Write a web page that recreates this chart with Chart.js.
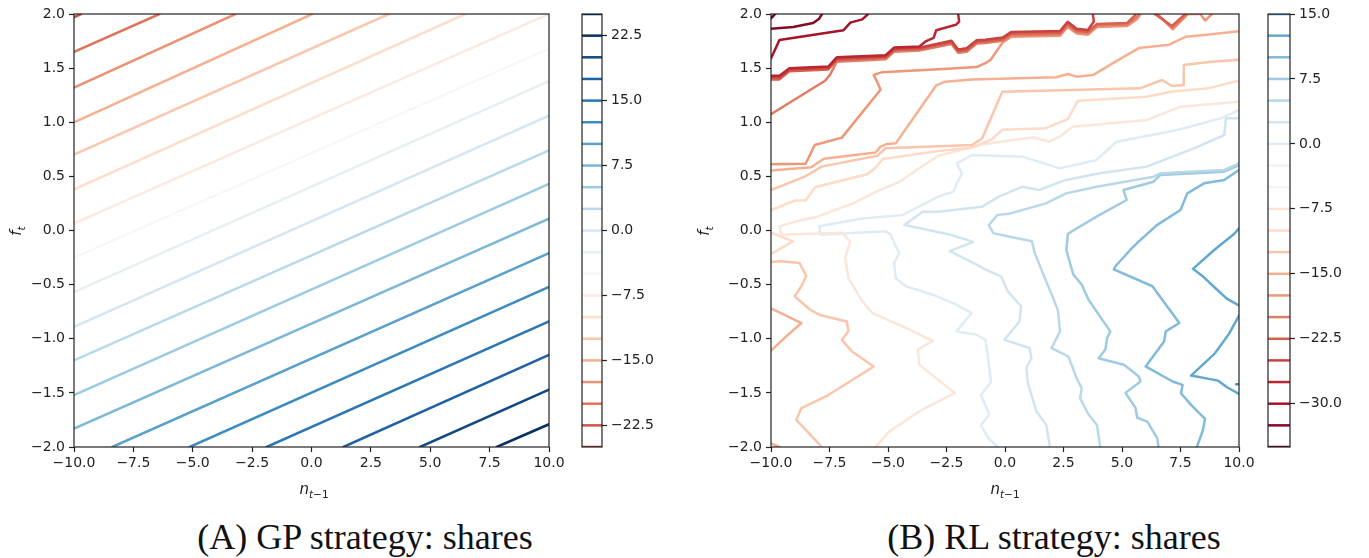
<!DOCTYPE html>
<html>
<head>
<meta charset="utf-8">
<script src="https://cdn.jsdelivr.net/npm/chart.js@4.4.1/dist/chart.umd.min.js"></script>
<style>
  body { margin: 0; background: #fff; }
  #fig { position: relative; width: 1369px; height: 558px; overflow: hidden; background: #fff; }
  canvas { position: absolute; top: 0; }
  .lab { position: absolute; font-family: 'DejaVu Sans', sans-serif; font-size: 15px; color: #222; white-space: nowrap; line-height: 1; }
  .lab sub { font-size: 0.7em; vertical-align: -0.35em; }
  .cap { position: absolute; font-family: 'Liberation Serif', serif; font-size: 36px; color: #111; white-space: nowrap; line-height: 1; transform: translateX(-50%); }
</style>
</head>
<body>
<div id="fig">
  <canvas id="plotA" width="600" height="490" style="left:0px;width:600px;height:490px"></canvas>
  <canvas id="barA" width="110" height="490" style="left:570px;width:110px;height:490px"></canvas>
  <canvas id="plotB" width="600" height="490" style="left:683px;width:600px;height:490px"></canvas>
  <canvas id="barB" width="113" height="490" style="left:1256px;width:113px;height:490px"></canvas>

  <div class="lab" style="left:314px;top:482px;transform:translateX(-50%)"><i>n</i><sub><i>t</i>&#8722;1</sub></div>
  <div class="lab" style="left:1005px;top:482px;transform:translateX(-50%)"><i>n</i><sub><i>t</i>&#8722;1</sub></div>
  <div class="lab" style="left:18px;top:231px;transform:translate(-50%,-50%) rotate(-90deg)"><i>f</i><sub><i>t</i></sub></div>
  <div class="lab" style="left:706px;top:231px;transform:translate(-50%,-50%) rotate(-90deg)"><i>f</i><sub><i>t</i></sub></div>

  <div class="cap" style="left:365px;top:519px">(A) GP strategy: shares</div>
  <div class="cap" style="left:1054px;top:519px">(B) RL strategy: shares</div>
</div>

<script>
// axis ticks
const xTicks = [-10, -7.5, -5, -2.5, 0, 2.5, 5, 7.5, 10];
const yTicks = [-2, -1.5, -1, -0.5, 0, 0.5, 1, 1.5, 2];

// colorbar levels and labels
const cbLevelsA = [-25, -22.5, -20, -17.5, -15, -12.5, -10, -7.5, -5, -2.5, 0, 2.5, 5, 7.5, 10, 12.5, 15, 17.5, 20, 22.5, 25];
const cbTicksA = [-22.5, -15, -7.5, 0, 7.5, 15, 22.5];
const cbLevelsB = [-35, -32.5, -30, -27.5, -25, -22.5, -20, -17.5, -15, -12.5, -10, -7.5, -5, -2.5, 0, 2.5, 5, 7.5, 10, 12.5, 15];
const cbTicksB = [-30, -22.5, -15, -7.5, 0, 7.5, 15];

// (A) GP strategy: contour levels and their lines, [n, f] points
const gpLevels = [-22.5, -20, -17.5, -15, -12.5, -10, -7.5, -5, -2.5, 0, 2.5, 5, 7.5, 10, 12.5, 15, 17.5, 20, 22.5];
const gpPaths = [
  [[-10, 1.97], [-9.7, 2.0]],
  [[-10, 1.65], [-6.4, 2.0]],
  [[-10, 1.32], [-3.2, 2.0]],
  [[-10, 1.0], [0.03, 2.0]],
  [[-10, 0.70], [3.25, 2.0]],
  [[-10, 0.38], [6.48, 2.0]],
  [[-10, 0.065], [10, 2.0]],
  [[-10, -0.25], [10, 1.68]],
  [[-10, -0.57], [10, 1.38]],
  [[-10, -0.89], [10, 1.06]],
  [[-10, -1.2], [10, 0.74]],
  [[-10, -1.52], [10, 0.43]],
  [[-10, -1.83], [10, 0.11]],
  [[-8.39, -2], [10, -0.21]],
  [[-5.13, -2], [10, -0.52]],
  [[-1.89, -2], [10, -0.84]],
  [[1.34, -2], [10, -1.15]],
  [[4.57, -2], [10, -1.47]],
  [[7.80, -2], [10, -1.79]]
];

// (B) RL strategy: contour levels and their lines
const rlLevels = [-35, -32.5, -30, -27.5, -25, -22.5, -22.5, -20, -20, -17.5, -17.5,
  -15, -12.5, -10, -7.5, 0, 2.5, 5, 7.5, 10, 12.5, 12.5, 15, -10, -12.5, -15, -15];
const rlPaths = [
  [[-10, 1.96], [-9.82, 2.0]],
  [[-10, 1.864], [-9.05, 1.88], [-8.2, 1.917], [-7.94, 1.957], [-7.82, 2.0]],
  [[-10, 1.59], [-9.64, 1.76], [-6.9, 1.85], [-6.61, 1.92], [-6.1, 1.95], [-5.85, 2.0]],
  [[-10, 1.43], [-9.64, 1.43], [-9.21, 1.50], [-7.55, 1.515], [-7.19, 1.60], [-5.10, 1.62], [-4.74, 1.69], [-3.66, 1.70],
   [-3.37, 1.75], [-3.05, 1.78], [-2.94, 1.85], [-2.10, 1.90], [-1.96, 1.93], [-2.0, 2.0]],
  [[-10, 1.413], [-9.64, 1.413], [-9.21, 1.488], [-7.55, 1.503], [-7.19, 1.588], [-5.10, 1.608], [-4.74, 1.678], [-3.66, 1.688],
   [-2.29, 1.753], [-2.0, 1.673], [-1.64, 1.683], [-1.21, 1.758], [-0.84, 1.763], [-0.10, 1.783], [0.26, 1.833], [2.35, 1.843],
   [2.68, 1.928], [3.06, 1.863], [3.54, 1.853], [3.8, 1.93], [3.75, 2.0]],
  [[-10, 1.396], [-9.64, 1.396], [-9.21, 1.472], [-7.55, 1.488], [-7.19, 1.575], [-5.10, 1.597], [-4.74, 1.667], [-3.66, 1.677],
   [-2.29, 1.737], [-2.0, 1.657], [-1.64, 1.667], [-1.21, 1.742], [-0.84, 1.747], [-0.10, 1.767], [0.26, 1.817], [2.35, 1.827],
   [2.68, 1.912], [3.06, 1.847], [3.54, 1.837], [3.93, 1.907], [5.22, 1.917], [5.51, 1.977], [5.58, 2.0]],
  [[6.40, 2.0], [7.14, 1.89], [7.70, 2.0]],
  [[-10, 1.075], [-7.69, 1.383], [-7.48, 1.438], [-7.33, 1.50], [-7.19, 1.56], [-5.10, 1.582], [-4.74, 1.652], [-3.66, 1.662],
   [-2.29, 1.722], [-2.0, 1.643], [-1.64, 1.652], [-1.21, 1.727], [-0.84, 1.733], [-0.10, 1.752], [0.26, 1.803], [2.35, 1.813],
   [2.68, 1.896], [3.06, 1.833], [3.54, 1.823], [3.93, 1.893], [5.22, 1.903], [5.6, 1.965], [5.72, 2.0]],
  [[6.47, 2.0], [7.16, 1.872], [7.76, 2.0]],
  [[-10, 0.611], [-8.52, 0.617], [-8.13, 0.79], [-6.97, 0.858], [-5.32, 1.30], [-5.39, 1.34], [-5.61, 1.438], [-5.24, 1.463],
   [-2.85, 1.49], [-1.21, 1.51], [-0.84, 1.546], [-0.62, 1.575], [-0.10, 1.738], [0.26, 1.789], [2.35, 1.799], [2.68, 1.881],
   [3.06, 1.819], [3.54, 1.809], [3.93, 1.879], [5.22, 1.889], [5.65, 1.955], [5.8, 2.0]],
  [[6.52, 2.0], [7.17, 1.857], [7.82, 2.0], [8.35, 2.0], [8.55, 1.94], [8.85, 2.0]],
  [[-10, 0.555], [-8.28, 0.585], [-7.74, 0.663], [-5.53, 0.72], [-5.32, 0.775], [-5.03, 0.80], [-4.67, 0.805], [-2.94, 1.34],
   [-2.56, 1.375], [-1.41, 1.396], [2.18, 1.415], [2.69, 1.446], [3.05, 1.421], [3.76, 1.436], [4.72, 1.56], [5.72, 1.685],
   [7.02, 1.716], [7.73, 1.79], [8.71, 1.81], [9.5, 1.83], [10, 1.84]],
  [[-10, 0.373], [-8.56, 0.497], [-7.84, 0.59], [-5.46, 0.69], [-5.1, 0.76], [-1.41, 0.79], [-0.98, 0.85], [-0.115, 1.282],
   [5.77, 1.313], [6.71, 1.39], [7.14, 1.335], [7.64, 1.344], [7.64, 1.529], [8.71, 1.556], [10, 1.578]],
  [[-10, 0.188], [-8.97, 0.277], [-8.51, 0.28], [-8.12, 0.40], [-7.58, 0.43], [-5.89, 0.52], [-5.51, 0.585], [-5.23, 0.66],
   [-2.85, 0.735], [-1.41, 0.765], [-0.55, 0.845], [-0.115, 0.93], [1.75, 0.945], [2.18, 0.985], [2.69, 1.03], [3.12, 1.199],
   [6.06, 1.236], [7.16, 1.284], [8.71, 1.315], [10, 1.384]],
  [[10, 1.19], [7.5, 1.144], [6.06, 1.02], [2.9, 0.959], [2.33, 0.867], [1.9, 0.82], [1.18, 0.861], [-0.98, 0.795],
   [-2.85, 0.69], [-3.5, 0.6], [-4.5, 0.45], [-5.5, 0.36], [-6.5, 0.25], [-7.98, 0.13], [-8.99, 0.08], [-9.63, 0.04],
   [-9.57, -0.04], [-6.97, -0.02], [-6.61, -0.10], [-6.83, -0.25], [-6.69, -0.44], [-6.11, -0.65], [-5.68, -0.76],
   [-4.38, -0.886], [-3.08, -1.02], [-3.73, -1.10], [-3.66, -1.24], [-2.15, -1.50], [-3.66, -1.67], [-4.96, -1.86], [-5.53, -2.0]],
  [[10, 1.113], [9.22, 1.036], [7.36, 0.928], [4.77, 0.82], [3.91, 0.651], [2.33, 0.574], [0.75, 0.682], [-1.41, 0.697],
   [-2.06, 0.62], [-1.84, 0.528], [-2.06, 0.436], [-2.2, 0.359], [-2.85, 0.313], [-4.38, 0.142], [-6.11, 0.11], [-7.94, 0.04],
   [-7.91, -0.04], [-5.10, -0.006], [-4.88, -0.037], [-4.74, -0.114], [-4.52, -0.207], [-4.74, -0.30], [-4.67, -0.438],
   [-4.24, -0.515], [-3.08, -0.593], [-2.07, -0.685], [-1.43, -0.762], [-2.07, -0.932], [-1.21, -0.963], [-0.84, -1.01],
   [-0.74, -1.15], [-0.6, -1.40], [-1.03, -1.52], [-0.67, -1.70], [-1.03, -1.80], [-0.7, -1.92], [-0.3, -2.0]],
  [[10, 1.036], [9.44, 1.036], [9.37, 0.882], [8.07, 0.759], [6.06, 0.59], [4.05, 0.528], [2.61, 0.467], [1.46, 0.374],
   [0.75, 0.405], [-0.26, 0.313], [-0.98, 0.22], [-2.85, 0.174], [-3.52, 0.173], [-4.3, 0.05], [-2.36, -0.037], [-1.35, -0.105],
   [-2.36, -0.19], [-1.21, -0.315], [-0.84, -0.36], [-0.17, -0.423], [0.12, -0.562], [0.69, -0.70], [0.62, -0.84], [-0.02, -1.01],
   [1.05, -1.086], [1.13, -1.18], [0.91, -1.27], [0.98, -1.41], [1.34, -1.67], [1.77, -1.80], [1.92, -2.0]],
  [[10, 0.62], [9.37, 0.559], [6.64, 0.528], [6.35, 0.497], [3.91, 0.405], [2.61, 0.343], [1.75, 0.251], [0.24, 0.158],
   [-0.33, 0.143], [-0.69, 0.05], [-0.5, -0.025], [1.15, -0.10], [1.27, -0.207], [1.70, -0.438], [2.06, -0.623], [2.27, -0.747],
   [2.35, -0.932], [1.99, -1.086], [2.71, -1.164], [3.06, -1.364], [3.28, -1.457], [3.21, -1.55], [3.57, -1.70], [3.93, -1.796], [4.07, -2.0]],
  [[10, 0.605], [9.37, 0.543], [6.64, 0.513], [6.35, 0.451], [5.06, 0.374], [5.2, 0.282], [3.91, 0.128], [2.69, -0.03],
   [2.62, -0.18], [2.92, -0.407], [3.28, -0.50], [3.57, -0.639], [4.50, -0.932], [4.36, -0.994], [4.29, -1.10], [4.0, -1.18],
   [5.08, -1.24], [5.44, -1.30], [5.72, -1.35], [5.79, -1.395], [5.15, -1.50], [5.58, -1.64], [5.65, -1.73], [6.08, -1.765],
   [6.51, -1.92], [6.56, -2.0]],
  [[10, 0.559], [9.37, 0.466], [8.51, 0.436], [7.79, 0.343], [7.5, 0.19], [6.49, 0.05], [5.72, -0.10], [5.35, -0.18],
   [4.72, -0.33], [4.65, -0.36], [6.30, -0.515], [7.45, -0.855], [6.87, -0.932], [6.80, -1.025], [6.01, -1.256], [7.16, -1.395],
   [7.59, -1.426], [7.52, -1.503], [8.02, -1.627], [8.55, -1.74], [8.45, -1.85], [8.2, -2.0]],
  [[10, 0.02], [9.8, -0.03], [8.94, -0.18], [8.03, -0.354], [8.49, -0.43], [8.95, -0.524], [9.49, -0.632], [10, -0.693]],
  [[10, -0.786], [9.57, -0.955], [8.95, -1.14], [7.95, -1.34], [9.11, -1.387], [9.49, -1.448], [10, -1.51]],
  [[9.88, -1.42], [10, -1.42]],
  [[-10, -0.02], [-9.06, -0.10], [-10, -0.216]],
  [[-10, -0.29], [-9.57, -0.284], [-8.78, -0.30], [-8.49, -0.42], [-8.70, -0.515], [-8.99, -0.608], [-8.34, -0.73], [-7.91, -0.78],
   [-6.76, -0.84], [-6.69, -0.93], [-6.97, -1.01], [-6.54, -1.117], [-5.61, -1.256], [-7.55, -1.52], [-8.70, -1.64], [-8.92, -1.75],
   [-7.91, -1.98], [-7.85, -2.0]],
  [[-10, -0.72], [-9.42, -0.78], [-8.70, -0.855], [-9.35, -0.978], [-10, -1.11]],
  [[-10, -1.966], [-9.64, -2.0]]
];

// RdBu colour map; each panel has its own value range
const rdbuStops = ['#67001f', '#b2182b', '#d6604d', '#f4a582', '#fddbc7', '#f7f7f7', '#d1e5f0', '#92c5de', '#4393c3', '#2166ac', '#053061'];
const normA = [-32.5, 22.5];
const normB = [-35, 27.5];

function hexToRgb(h) {
  return [parseInt(h.slice(1, 3), 16), parseInt(h.slice(3, 5), 16), parseInt(h.slice(5, 7), 16)];
}
function rdbu(level, norm) {
  let t = (level - norm[0]) / (norm[1] - norm[0]);
  t = Math.min(1, Math.max(0, t));
  const pos = t * (rdbuStops.length - 1);
  const i = Math.min(Math.floor(pos), rdbuStops.length - 2);
  const k = pos - i;
  const a = hexToRgb(rdbuStops[i]), b = hexToRgb(rdbuStops[i + 1]);
  const c = a.map((v, j) => Math.round(v + (b[j] - v) * k));
  return `rgb(${c[0]},${c[1]},${c[2]})`;
}

const fmt = v => Number(v).toFixed(1).replace('-', '\u2212');
const inkColour = '#222';
const tickFont = { family: 'DejaVu Sans', size: 14 };

Chart.defaults.animation = false;
Chart.defaults.font.family = 'DejaVu Sans';

// box round the plotting area, like matplotlib spines
const framePlugin = {
  id: 'frame',
  afterDatasetsDraw(chart) {
    const { ctx, chartArea: a } = chart;
    ctx.save();
    ctx.strokeStyle = inkColour;
    ctx.lineWidth = 1.2;
    ctx.strokeRect(a.left, a.top, a.right - a.left, a.bottom - a.top);
    ctx.restore();
  }
};

function tickGrid() {
  return { drawOnChartArea: false, drawTicks: true, tickLength: 5, tickColor: inkColour, tickWidth: 1.2 };
}

// yWidth / rightPad place the plotting box inside its canvas
function contourChart(id, levels, paths, norm, yWidth, rightPad) {
  const datasets = paths.map((p, i) => ({
    data: p.map(([n, f]) => ({ x: n, y: f })),
    showLine: true,
    pointRadius: 0,
    borderColor: rdbu(levels[i], norm),
    borderWidth: 2.5,
    borderJoinStyle: 'round',
    borderCapStyle: 'round',
    clip: 0
  }));
  new Chart(document.getElementById(id), {
    type: 'scatter',
    data: { datasets },
    options: {
      responsive: false,
      layout: { padding: { left: 0, right: rightPad, top: 14, bottom: 0 } },
      plugins: { legend: { display: false }, tooltip: { enabled: false } },
      scales: {
        x: {
          type: 'linear', min: -10, max: 10,
          afterBuildTicks: s => { s.ticks = xTicks.map(v => ({ value: v })); },
          afterFit: s => { s.height = 43; },
          ticks: { callback: fmt, font: tickFont, color: inkColour, padding: 3, maxRotation: 0, autoSkip: false },
          grid: tickGrid(),
          border: { display: false }
        },
        y: {
          type: 'linear', min: -2, max: 2,
          afterBuildTicks: s => { s.ticks = yTicks.map(v => ({ value: v })); },
          afterFit: s => { s.width = yWidth; },
          ticks: { callback: fmt, font: tickFont, color: inkColour, padding: 4, autoSkip: false },
          grid: tickGrid(),
          border: { display: false }
        }
      }
    },
    plugins: [framePlugin]
  });
}

function colourbarChart(id, levels, ticks, norm, axisWidth) {
  const datasets = levels.map(l => ({
    data: [{ x: 0, y: l }, { x: 1, y: l }],
    showLine: true,
    pointRadius: 0,
    borderColor: rdbu(l, norm),
    borderWidth: 2.5
  }));
  new Chart(document.getElementById(id), {
    type: 'scatter',
    data: { datasets },
    options: {
      responsive: false,
      layout: { padding: { left: 12, right: 0, top: 14, bottom: 43 } },
      plugins: { legend: { display: false }, tooltip: { enabled: false } },
      scales: {
        x: { type: 'linear', min: 0, max: 1, display: false },
        y: {
          type: 'linear', position: 'right',
          min: levels[0], max: levels[levels.length - 1],
          afterBuildTicks: s => { s.ticks = ticks.map(v => ({ value: v })); },
          afterFit: s => { s.width = axisWidth; },
          ticks: { callback: fmt, font: tickFont, color: inkColour, padding: 4, autoSkip: false },
          grid: tickGrid(),
          border: { display: false }
        }
      }
    },
    plugins: [framePlugin]
  });
}

contourChart('plotA', gpLevels, gpPaths, normA, 74, 51);
colourbarChart('barA', cbLevelsA, cbTicksA, normA, 78);
contourChart('plotB', rlLevels, rlPaths, normB, 88, 44);
colourbarChart('barB', cbLevelsB, cbTicksB, normB, 79);
</script>
</body>
</html>
